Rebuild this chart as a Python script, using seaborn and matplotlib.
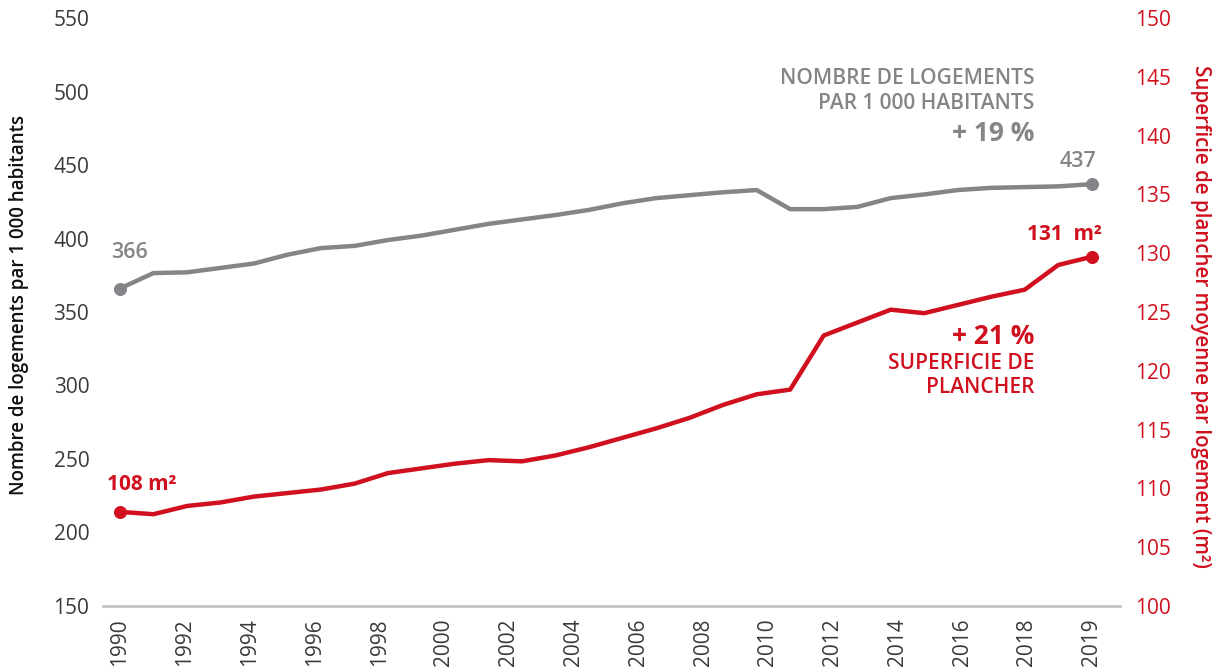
import matplotlib
matplotlib.use("Agg")
import matplotlib.pyplot as plt
import numpy as np
import pandas as pd
import seaborn as sns

# data
years = list(range(1990, 2020))
logements = [366, 376.5, 377, 380, 383, 389, 393.5, 395, 399, 402,
             406, 410, 413, 416, 419.5, 424, 427.5, 429.5, 431.5, 433,
             420, 420, 421.5, 427.5, 430, 433, 434.5, 435, 435.5, 437]
superficie = [108.0, 107.8, 108.5, 108.8, 109.3, 109.6, 109.9, 110.4, 111.3, 111.7,
              112.1, 112.4, 112.3, 112.8, 113.5, 114.3, 115.1, 116.0, 117.1, 118.0,
              118.4, 123.0, 124.1, 125.2, 124.9, 125.6, 126.3, 126.9, 129.0, 129.7]
tick_labels = ["1990", "1992", "1994", "1996", "1998", "2000", "2002", "2004",
               "2006", "2008", "2010", "2012", "2014", "2016", "2018", "2019"]
left_ticks = [150, 200, 250, 300, 350, 400, 450, 500, 550]
right_ticks = [100, 105, 110, 115, 120, 125, 130, 135, 140, 145, 150]

GRAY = "#848588"
RED = "#d0101e"
DARK = "#3a3a3a"

sns.set_style("white")
plt.rcParams["font.family"] = ["Open Sans", "DejaVu Sans"]

df = pd.DataFrame({"year": years, "logements": logements, "superficie": superficie})

fig = plt.figure(figsize=(12.14, 6.71), dpi=100)
ax = fig.add_axes([0.085, 0.097, 0.8375, 0.876])
ax2 = ax.twinx()

sns.lineplot(data=df, x="year", y="logements", ax=ax, color=GRAY, linewidth=3.2)
sns.lineplot(data=df, x="year", y="superficie", ax=ax2, color=RED, linewidth=3.2)
# end-point dots
ends = df.iloc[[0, -1]]
sns.scatterplot(data=ends, x="year", y="logements", ax=ax, color=GRAY, s=75, edgecolor=GRAY, zorder=3)
sns.scatterplot(data=ends, x="year", y="superficie", ax=ax2, color=RED, s=75, edgecolor=RED, zorder=3)

ax.set_xlim(1989.5, 2019.84)
ax.set_ylim(150, 550)
ax2.set_ylim(100, 150)
ax.set_yticks(left_ticks)
ax2.set_yticks(right_ticks)
ax.set_xticks(np.linspace(years[0], years[-1], len(tick_labels)))
ax.set_xticklabels(tick_labels, rotation=90)

for a in (ax, ax2):
    for s in a.spines.values():
        s.set_visible(False)
ax.spines["bottom"].set_visible(True)
ax.spines["bottom"].set_color("#c4c4c4")
ax.spines["bottom"].set_linewidth(2)

ax.tick_params(axis="x", length=0, pad=9, labelsize=15, labelcolor=DARK)
ax.tick_params(axis="y", length=0, pad=10, labelsize=15, labelcolor=DARK)
ax2.tick_params(axis="y", length=0, pad=11, labelsize=15, labelcolor=RED)

ax.set_xlabel("")
ax.set_ylabel("Nombre de logements par 1 000 habitants", fontsize=13.5,
              fontweight="semibold", color="#111111")
ax.yaxis.set_label_coords(-0.073, 0.512)
ax2.set_ylabel("Superficie de plancher moyenne par logement (m²)", fontsize=14.8,
               fontweight="semibold", color=RED, rotation=270, va="center")
ax2.yaxis.set_label_coords(1.079, 0.493)

# value labels at the ends
ax.annotate("366", (years[0], logements[0]), xytext=(7, 26), textcoords="offset points",
            ha="center", va="center", fontsize=15.5, fontweight="semibold", color=GRAY)
ax.annotate("437", (years[-1], logements[-1]), xytext=(-10, 16.5), textcoords="offset points",
            ha="center", va="center", fontsize=15.5, fontweight="semibold", color=GRAY)
ax2.annotate("108 m²", (years[0], superficie[0]), xytext=(16, 20), textcoords="offset points",
             ha="center", va="center", fontsize=15, fontweight="bold", color=RED)
ax2.annotate("131  m²", (years[-1], superficie[-1]), xytext=(-20, 16), textcoords="offset points",
             ha="center", va="center", fontsize=15, fontweight="bold", color=RED)

# series captions
ax.text(0.916, 0.898, "NOMBRE DE LOGEMENTS", transform=ax.transAxes, ha="right", va="center",
        fontsize=15, fontweight="semibold", color=GRAY)
ax.text(0.916, 0.855, "PAR 1 000 HABITANTS", transform=ax.transAxes, ha="right", va="center",
        fontsize=15, fontweight="semibold", color=GRAY)
ax.text(0.916, 0.804, "+ 19 %", transform=ax.transAxes, ha="right", va="center",
        fontsize=19, fontweight="bold", color=GRAY)
ax.text(0.916, 0.4575, "+ 21 %", transform=ax.transAxes, ha="right", va="center",
        fontsize=19, fontweight="bold", color=RED)
ax.text(0.916, 0.413, "SUPERFICIE DE", transform=ax.transAxes, ha="right", va="center",
        fontsize=15, fontweight="semibold", color=RED)
ax.text(0.916, 0.371, "PLANCHER", transform=ax.transAxes, ha="right", va="center",
        fontsize=15, fontweight="semibold", color=RED)

fig.savefig("out.png", dpi=100)
